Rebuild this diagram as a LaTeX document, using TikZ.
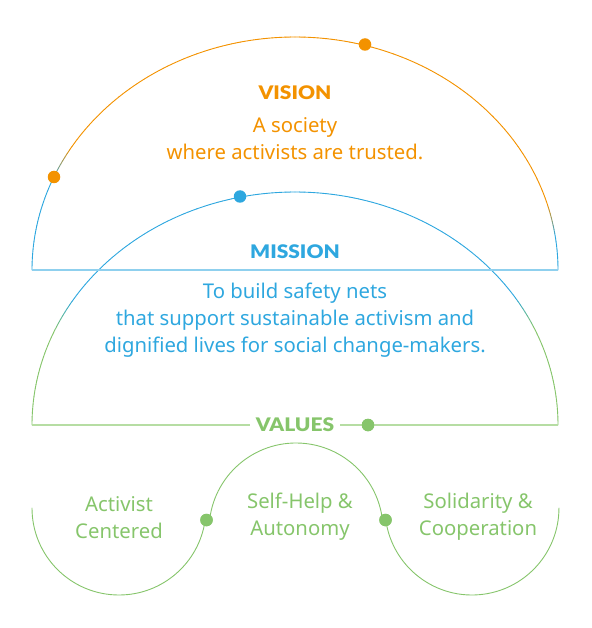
\documentclass[tikz,border=0pt]{standalone}
\usepackage{fontspec}
\setmainfont{Noto Sans}
\newfontfamily\headfont{Lato}[UprightFont=* Black, FakeStretch=1.12]
\definecolor{vorange}{HTML}{F39200}
\definecolor{mblue}{HTML}{2EA7DF}
\definecolor{vgreen}{HTML}{86C56B}
\definecolor{lblue}{HTML}{8FD0EE}
\definecolor{lgreen}{HTML}{B6DDA3}
\tikzset{
  dot/.style={circle, inner sep=0pt, minimum size=12.5pt, draw=none},
  head/.style={font=\headfont\fontsize{18.7}{18.7}\selectfont, inner sep=1pt},
  body/.style={font=\fontsize{20.3}{27}\selectfont, align=center, inner sep=0pt},
  arcline/.style={line width=0.9pt, line cap=round},
  baseline/.style={line width=2pt},
}
\begin{document}
\begin{tikzpicture}[x=1pt,y=-1pt]
\useasboundingbox (0,0) rectangle (591,628);
% Vision half-ellipse with gradient ends
\foreach \a in {0,1,...,179}{
  \pgfmathtruncatemacro\p{100*min(max(min((\a-8)/8,1),0), max(min((157-\a)/9,1),0))}
  \draw[arcline, color=vorange!\p!mblue] ({295+263*cos(\a)},{270-233*sin(\a)}) -- ({295+263*cos(\a+1)},{270-233*sin(\a+1)});
}
% Mission half-ellipse
\foreach \a in {0,1,...,179}{
  \pgfmathtruncatemacro\p{100*min(max(min((\a-24)/9,1),0), max(min((156-\a)/9,1),0))}
  \draw[arcline, color=mblue!\p!vgreen] ({295+263*cos(\a)},{425-233*sin(\a)}) -- ({295+263*cos(\a+1)},{425-233*sin(\a+1)});
}
% Vision baseline
\coordinate (vL) at (32,270);
\coordinate (vR) at (558,270);
\draw[baseline, lblue] (vL) -- (vR);
% Values baseline
\coordinate (mL) at (32,425);
\coordinate (mR) at (558,425);
\node[head, text=vgreen] (values) at (295,425) {VALUES};
\node[dot, fill=vgreen] (gd0) at (368,425) {};
\draw[baseline, lgreen] (mL) -- ([xshift=-5pt]values.west);
\draw[baseline, lgreen] ([xshift=5pt]values.east) -- (gd0) -- (mR);
\node[dot, fill=vgreen] at (gd0) {};
% Values wave
\node[dot, fill=vgreen] (gd1) at (206.5,520) {};
\node[dot, fill=vgreen] (gd2) at (385.5,520) {};
\draw[arcline, vgreen] (32,508) arc[start angle=180, end angle=8, radius=87];
\draw[arcline, vgreen] (209.6,520) arc[start angle=186.6, end angle=353.4, radius=87];
\draw[arcline, vgreen] (385.8,520.1) arc[start angle=172, end angle=0, radius=87];
\node[dot, fill=vgreen] at (gd1) {};
\node[dot, fill=vgreen] at (gd2) {};
% Dots on arcs
\node[dot, fill=vorange] (od1) at (365,44.5) {};
\node[dot, fill=vorange] (od2) at (54,177) {};
\node[dot, fill=mblue] (bd1) at (240,196.5) {};
% Texts
\node[head, text=vorange] (vision) at (295,93) {VISION};
\node[body, text=vorange] (visiontxt) at (295,139) {A society\\where activists are trusted.};
\node[head, text=mblue] (mission) at (295,252) {MISSION};
\node[body, text=mblue] (missiontxt) at (295,320.5) {To build safety nets\\that support sustainable activism and\\dignified lives for social change-makers.};
\node[body, text=vgreen] (v1) at (119,518) {Activist\\Centered};
\node[body, text=vgreen] (v2) at (300,517) {Self-Help \&\\Autonomy};
\node[body, text=vgreen] (v3) at (478,517) {Solidarity \&\\Cooperation};
\end{tikzpicture}
\end{document}
